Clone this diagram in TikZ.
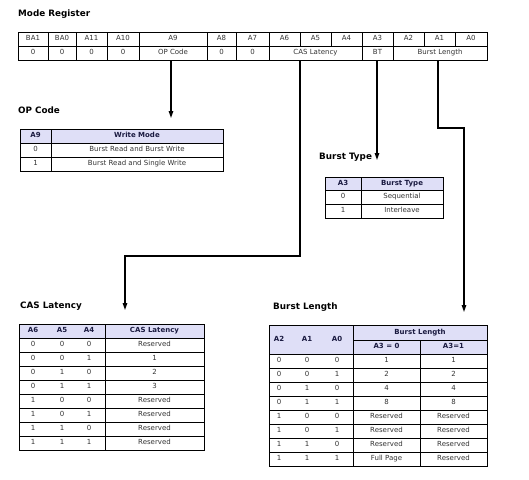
\documentclass[tikz,border=0pt]{standalone}
\usepackage{fontspec}
\setmainfont{DejaVu Sans}
\usetikzlibrary{arrows.meta}
\definecolor{hdr}{HTML}{DFDFF7}
\definecolor{hdrtext}{HTML}{1A1A40}
\definecolor{bodytext}{HTML}{333333}
\newcommand\rc[6]{%
  \pgfmathsetmacro\rcw{#4-#2}\pgfmathsetmacro\rch{#5-#3}%
  \node[regcell,minimum width=\rcw pt,minimum height=\rch pt] (#1) at ({(#2+#4)/2},{(#3+#5)/2}) {#6};}
\begin{document}
\begin{tikzpicture}[x=1pt,y=-1pt,
  grid/.style={draw=black,line width=0.9pt},
  txt/.style={font=\fontsize{7}{8}\selectfont,text=bodytext,inner sep=0pt,text height=5pt,text depth=1.4pt},
  hd/.style={font=\fontsize{7}{8}\selectfont\bfseries,text=hdrtext,inner sep=0pt,text height=5pt,text depth=1.4pt},
  ttl/.style={font=\fontsize{8.8}{10}\selectfont\bfseries,anchor=west,inner sep=0pt,text height=6.5pt,text depth=1.8pt},
  conn/.style={line width=1.3pt},
  arr/.style={conn,-{Triangle[length=7pt,width=4.5pt]}},
  regcell/.style={draw=black,line width=0.9pt,inner sep=0pt,outer sep=0pt,font=\fontsize{7}{8}\selectfont,text=bodytext,text height=5pt,text depth=1.4pt}
]
\useasboundingbox (0,0) rectangle (529,479);

% ---------- Mode Register ----------
\node[ttl] (tMode) at (18,14) {Mode Register};
\rc{h1}{18}{32}{48}{46}{BA1}
\rc{h2}{48}{32}{76}{46}{BA0}
\rc{h3}{76}{32}{107}{46}{A11}
\rc{h4}{107}{32}{139}{46}{A10}
\rc{h5}{139}{32}{207}{46}{A9}
\rc{h6}{207}{32}{236}{46}{A8}
\rc{h7}{236}{32}{269}{46}{A7}
\rc{h8}{269}{32}{300}{46}{A6}
\rc{h9}{300}{32}{331}{46}{A5}
\rc{h10}{331}{32}{362}{46}{A4}
\rc{h11}{362}{32}{393}{46}{A3}
\rc{h12}{393}{32}{424}{46}{A2}
\rc{h13}{424}{32}{455}{46}{A1}
\rc{h14}{455}{32}{487}{46}{A0}
\rc{v1}{18}{46}{48}{60}{0}
\rc{v2}{48}{46}{76}{60}{0}
\rc{v3}{76}{46}{107}{60}{0}
\rc{v4}{107}{46}{139}{60}{0}
\rc{rop}{139}{46}{207}{60}{OP Code}
\rc{v6}{207}{46}{236}{60}{0}
\rc{v7}{236}{46}{269}{60}{0}
\rc{rcas}{269}{46}{362}{60}{CAS Latency}
\rc{rbt}{362}{46}{393}{60}{BT}
\rc{rbl}{393}{46}{487}{60}{Burst Length}

% ---------- OP Code table ----------
\node[ttl] (tOp) at (18,111) {OP Code};
\fill[hdr] (20,129) rectangle (223,143);
\draw[grid] (20,129) rectangle (223,171);
\draw[grid] (20,143) -- (223,143) (20,157) -- (223,157) (51,129) -- (51,171);
\node[hd] (opA9) at (35.5,136) {A9};
\node[hd] (opWM) at (137,136) {Write Mode};
\node[txt] (op0) at (35.5,150) {0};
\node[txt] (op0t) at (137,150) {Burst Read and Burst Write};
\node[txt] (op1) at (35.5,164) {1};
\node[txt] (op1t) at (137,164) {Burst Read and Single Write};

% ---------- Burst Type table ----------
\node[ttl] (tBt) at (319,157) {Burst Type};
\fill[hdr] (325,177) rectangle (443,190);
\draw[grid] (325,177) rectangle (443,218);
\draw[grid] (325,190) -- (443,190) (325,204) -- (443,204) (361,177) -- (361,218);
\node[hd] (btA3) at (343,183.5) {A3};
\node[hd] (btH) at (402,183.5) {Burst Type};
\node[txt] (bt0) at (343,197) {0};
\node[txt] (bt0t) at (402,197) {Sequential};
\node[txt] (bt1) at (343,211) {1};
\node[txt] (bt1t) at (402,211) {Interleave};

% ---------- CAS Latency table ----------
\node[ttl] (tCas) at (20,306) {CAS Latency};
\fill[hdr] (19,324) rectangle (204,338);
\draw[grid] (19,324) rectangle (204,450);
\foreach \k in {0,...,7}{\draw[grid] (19,{338+14*\k}) -- (204,{338+14*\k});}
\draw[grid] (105,324) -- (105,450);
\node[hd] (casA6) at (33,331) {A6};
\node[hd] (casA5) at (62,331) {A5};
\node[hd] (casA4) at (89,331) {A4};
\node[hd] (casH) at (154.5,331) {CAS Latency};
\foreach \a/\b/\c/\v [count=\i] in {0/0/0/Reserved,0/0/1/1,0/1/0/2,0/1/1/3,1/0/0/Reserved,1/0/1/Reserved,1/1/0/Reserved,1/1/1/Reserved}{
  \node[txt] (casa\i) at (33,{331+14*\i}) {\a};
  \node[txt] (casb\i) at (62,{331+14*\i}) {\b};
  \node[txt] (casc\i) at (89,{331+14*\i}) {\c};
  \node[txt] (casv\i) at (154.5,{331+14*\i}) {\v};
}

% ---------- Burst Length table ----------
\node[ttl] (tBl) at (273,307) {Burst Length};
\fill[hdr] (269,325) rectangle (487,354);
\draw[grid] (269,325) rectangle (487,466);
\draw[grid] (353,340) -- (487,340);
\foreach \k in {0,...,7}{\draw[grid] (269,{354+14*\k}) -- (487,{354+14*\k});}
\draw[grid] (353,325) -- (353,466) (420,340) -- (420,466);
\node[hd] (blA2) at (279,339.5) {A2};
\node[hd] (blA1) at (307,339.5) {A1};
\node[hd] (blA0) at (337,339.5) {A0};
\node[hd] (blH) at (420,332.5) {Burst Length};
\node[hd] (blH0) at (386.5,347) {A3 = 0};
\node[hd] (blH1) at (453.5,347) {A3=1};
\foreach \a/\b/\c/\v/\w [count=\i] in {0/0/0/1/1,0/0/1/2/2,0/1/0/4/4,0/1/1/8/8,1/0/0/Reserved/Reserved,1/0/1/Reserved/Reserved,1/1/0/Reserved/Reserved,1/1/1/Full Page/Reserved}{
  \node[txt] (bla\i) at (279,{354+14*\i-7}) {\a};
  \node[txt] (blb\i) at (307,{354+14*\i-7}) {\b};
  \node[txt] (blc\i) at (337,{354+14*\i-7}) {\c};
  \node[txt] (blv\i) at (386.5,{354+14*\i-7}) {\v};
  \node[txt] (blw\i) at (453.5,{354+14*\i-7}) {\w};
}

% ---------- Connectors ----------
\coordinate (opTip) at (171,118);
\draw[arr] (rop.south -| opTip) -- (opTip);
\coordinate (casBend) at (300,256);
\coordinate (casTip) at (125,310);
\draw[arr] (rcas.south -| casBend) -- (casBend) -| (casTip);
\coordinate (btTip) at (377,160);
\draw[arr] (rbt.south -| btTip) -- (btTip);
\coordinate (blBend) at (438,128);
\coordinate (blTip) at (464,312);
\draw[arr] (rbl.south -| blBend) -- (blBend) -| (blTip);
\end{tikzpicture}
\end{document}
